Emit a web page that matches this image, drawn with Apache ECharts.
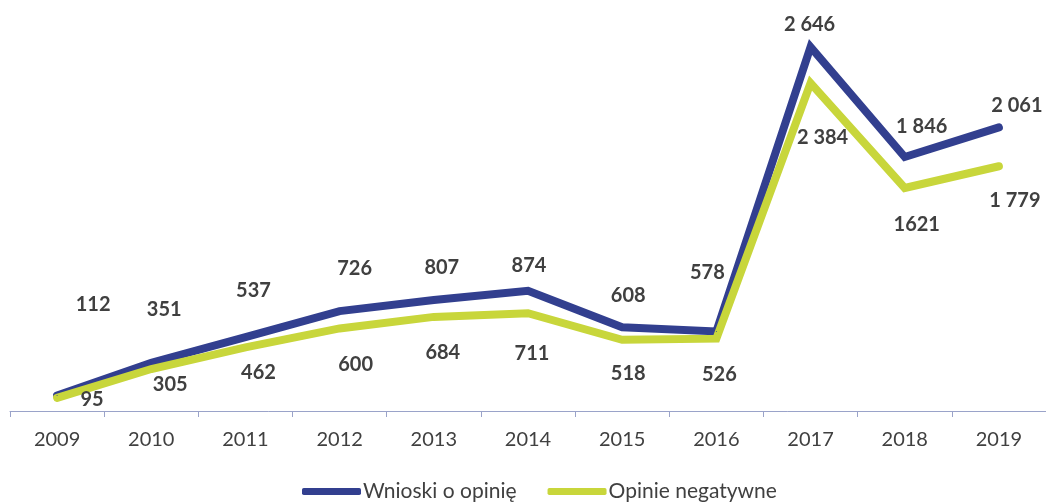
<!DOCTYPE html>
<html>
<head>
<meta charset="utf-8">
<script src="https://cdn.jsdelivr.net/npm/echarts@6/dist/echarts.min.js"></script>
<style>
  html, body { margin: 0; padding: 0; background: #fff; }
  #chart { width: 1046px; height: 502px; }
</style>
</head>
<body>
<div id="chart"></div>
<script>
// lata
var years = ['2009', '2010', '2011', '2012', '2013', '2014', '2015', '2016', '2017', '2018', '2019'];

// wnioski o opinię
var wnioski = [112, 351, 537, 726, 807, 874, 608, 578, 2646, 1846, 2061];
var wnioskiText = ['112', '351', '537', '726', '807', '874', '608', '578', '2 646', '1 846', '2 061'];

// opinie negatywne
var negatywne = [95, 305, 462, 600, 684, 711, 518, 526, 2384, 1621, 1779];
var negatywneText = ['95', '305', '462', '600', '684', '711', '518', '526', '2 384', '1621', '1 779'];

// przesuniecia etykiet wzgledem punktu (jak w oryginale z Excela)
var wnioskiOffsets = [[36, -91], [13, -53], [8, -47], [15, -43], [8, -32], [1, -25], [6, -32], [-9, -59], [-1, -22], [17, -30], [18, -22]];
var negatywneOffsets = [[35, 2], [19, 16], [13, 25], [16, 36], [9, 36], [4, 40], [6, 34], [3, 36], [12, 55], [12, 37], [16, 34]];

var FONT = 'Lato, "Open Sans", sans-serif';

function build_data(values, texts, offsets) {
    return values.map(function (v, i) {
        return {
            value: v,
            label: { offset: offsets[i], formatter: texts[i] }
        };
    });
}

function make_series(name, color, values, texts, offsets) {
    return {
        name: name,
        type: 'line',
        data: build_data(values, texts, offsets),
        symbol: 'circle',
        symbolSize: 1,
        showSymbol: true,
        itemStyle: { color: color },
        lineStyle: { color: color, width: 8, cap: 'round', join: 'miter' },
        label: {
            show: true,
            position: 'inside',
            align: 'center',
            verticalAlign: 'middle',
            color: '#404040',
            fontFamily: FONT,
            fontWeight: 'bold',
            fontSize: 20
        },
        emphasis: { disabled: true }
    };
}

var chart = echarts.init(document.getElementById('chart'));

var option = {
    animation: false,
    grid: { left: 10, right: -6, top: 12, bottom: 91 },
    legend: {
        top: 476,
        left: 297,
        itemWidth: 59,
        itemHeight: 7,
        itemGap: 31,
        icon: 'roundRect',
        textStyle: { color: '#404040', fontFamily: FONT, fontSize: 21, padding: [0, 0, 0, -3] },
        data: ['Wnioski o opinię', 'Opinie negatywne']
    },
    xAxis: {
        type: 'category',
        data: years,
        boundaryGap: true,
        axisLine: { lineStyle: { color: '#9aa3c9', width: 1 } },
        axisTick: { show: true, length: 6, lineStyle: { color: '#9aa3c9' } },
        axisLabel: { color: '#404040', fontFamily: FONT, fontSize: 20, margin: 19 }
    },
    yAxis: {
        type: 'value',
        min: 0,
        max: 2900,
        show: false,
        splitLine: { show: false }
    },
    series: [
        make_series('Wnioski o opinię', '#323f8f', wnioski, wnioskiText, wnioskiOffsets),
        make_series('Opinie negatywne', '#c8d63b', negatywne, negatywneText, negatywneOffsets)
    ]
};

chart.setOption(option);
</script>
</body>
</html>
